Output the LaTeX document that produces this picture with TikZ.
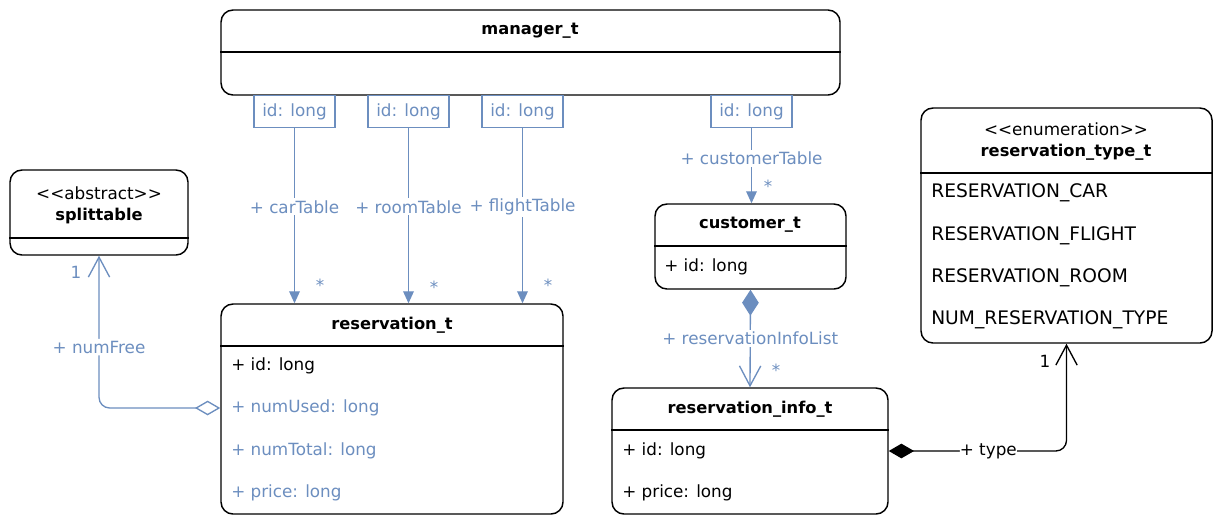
\documentclass[tikz,border=0pt]{standalone}
\usepackage{fontspec}
\setmainfont{DejaVu Sans}
\usetikzlibrary{arrows.meta,fit}
\definecolor{umlblue}{HTML}{6C8EBF}
\tikzset{openv/.tip={Straight Barb[length=15pt,width=16pt,line width=1pt]}}
\begin{document}
\begin{tikzpicture}[x=0.75pt,y=-0.75pt,
  font=\fontsize{12.6}{15}\selectfont,
  cls/.style={draw=black,line width=1.1pt,rounded corners=9pt,inner sep=0pt},
  divider/.style={draw=black,line width=1.1pt},
  qual/.style={draw=umlblue,line width=0.9pt,text=umlblue,inner sep=0pt,
    minimum width=60.75pt,minimum height=24pt},
  title/.style={font=\fontsize{12.2}{14}\selectfont\bfseries},
  attr/.style={anchor=west,inner sep=0pt},
  battr/.style={attr,text=umlblue},
  literal/.style={attr,font=\fontsize{14}{16}\selectfont},
  assoc/.style={draw=umlblue,line width=1pt},
  lbl/.style={fill=white,text=umlblue,inner sep=1.5pt},
  mult/.style={text=umlblue,inner sep=0pt},
  navblock/.style={-{Triangle[length=9pt,width=8pt]}},
]
\useasboundingbox (0,0) rectangle (1213,515);

% manager_t
\node[cls,fit={(221,10) (840,95)}] (mgr) {};
\draw[divider] (mgr.west |- 0,52) -- (mgr.east |- 0,52);
\node[title] (mgrT) at (530,31) {manager\_t};

% qualifiers below manager_t
\node[qual,anchor=north] (q1) at (294.5,95) {id: long};
\node[qual,anchor=north] (q2) at (408.5,95) {id: long};
\node[qual,anchor=north] (q3) at (522.5,95) {id: long};
\node[qual,anchor=north] (q4) at (751.5,95) {id: long};

% splittable
\node[cls,fit={(10,170) (188,255)}] (split) {};
\draw[divider] (split.west |- 0,238) -- (split.east |- 0,238);
\node (splitS) at (99,193) {{<}{<}abstract{>}{>}};
\node[title] (splitT) at (99,216) {splittable};

% reservation_t
\node[cls,fit={(221,304) (563,514)}] (res) {};
\draw[divider] (res.west |- 0,346) -- (res.east |- 0,346);
\node[title] (resT) at (392,325) {reservation\_t};
\node[attr] (resA1) at (231,366) {+ id: long};
\node[battr] (resA2) at (231,408) {+ numUsed: long};
\node[battr] (resA3) at (231,451) {+ numTotal: long};
\node[battr] (resA4) at (231,493) {+ price: long};

% customer_t
\node[cls,fit={(655,204) (846,289)}] (cust) {};
\draw[divider] (cust.west |- 0,246) -- (cust.east |- 0,246);
\node[title] (custT) at (750,225) {customer\_t};
\node[attr] (custA1) at (664,267) {+ id: long};

% reservation_info_t
\node[cls,fit={(612,388) (888,514)}] (info) {};
\draw[divider] (info.west |- 0,430) -- (info.east |- 0,430);
\node[title] (infoT) at (750,409) {reservation\_info\_t};
\node[attr] (infoA1) at (622,451) {+ id: long};
\node[attr] (infoA2) at (622,493) {+ price: long};

% reservation_type_t
\node[cls,fit={(921,108) (1212,343)}] (enum) {};
\draw[divider] (enum.west |- 0,173) -- (enum.east |- 0,173);
\node (enumS) at (1066,129) {{<}{<}enumeration{>}{>}};
\node[title] (enumT) at (1066,152) {reservation\_type\_t};
\node[literal] (enumA1) at (931,193) {RESERVATION\_CAR};
\node[literal] (enumA2) at (931,236) {RESERVATION\_FLIGHT};
\node[literal] (enumA3) at (931,278) {RESERVATION\_ROOM};
\node[literal] (enumA4) at (931,320) {NUM\_RESERVATION\_TYPE};

% qualified associations from manager_t
\draw[assoc,navblock] (q1.south) -- node[lbl,pos=0.45] {+ carTable} (q1.south |- res.north);
\draw[assoc,navblock] (q2.south) -- node[lbl,pos=0.45] {+ roomTable} (q2.south |- res.north);
\draw[assoc,navblock] (q3.south) -- node[lbl,pos=0.45] {+ flightTable} (q3.south |- res.north);
\draw[assoc,navblock] (q4.south) -- node[lbl,pos=0.4] {+ customerTable} (q4.south |- cust.north);
\node[mult] (m1) at (320,285) {*};
\node[mult] (m2) at (434,287) {*};
\node[mult] (m3) at (548,285) {*};
\node[mult] (m4) at (768,186) {*};

% aggregation reservation_t -> splittable
\draw[assoc,rounded corners=8pt,
  {Diamond[open,length=19pt,width=11pt,fill=white]}-{openv}]
  (res.west |- 0,408) -| node[lbl,pos=0.70] {+ numFree} (split.south);
\node[mult] (m5) at (76,272) {1};

% composition customer_t -> reservation_info_t
\draw[assoc,{Diamond[length=19.5pt,width=12.5pt,fill=umlblue]}-{openv}]
  (cust.south) -- node[lbl,pos=0.5] {+ reservationInfoList} (info.north);
\node[mult] (m6) at (776,370) {*};

% composition reservation_info_t -> reservation_type_t
\draw[draw=black,line width=1pt,rounded corners=8pt,
  {Diamond[length=19pt,width=11pt,fill=black]}-{openv}]
  (info.east |- 0,451) -| node[fill=white,inner sep=0pt,pos=0.28] {+ type} (enum.south);
\node[inner sep=0pt] (m7) at (1045,361) {1};
\end{tikzpicture}
\end{document}
